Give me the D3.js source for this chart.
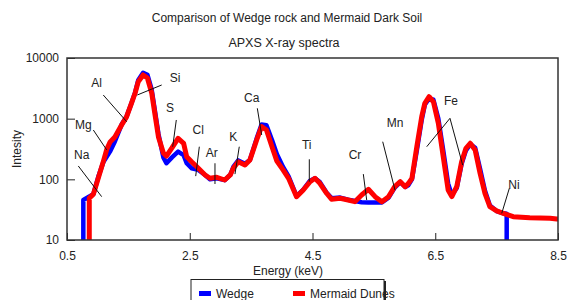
<!DOCTYPE html>
<html>
<head>
<meta charset="utf-8">
<script src="https://cdn.jsdelivr.net/npm/d3@7/dist/d3.min.js"></script>
<style>
  body { margin: 0; background: #fff; }
  svg text { font-family: "Liberation Sans", Arial, sans-serif; fill: #222; }
</style>
</head>
<body>
<svg id="chart"></svg>
<script>
// ── Data (energy keV, counts) ────────────────────────────────────────────────
const wedgeE = [0.766, 0.766, 0.85, 0.93, 1.01, 1.09, 1.20, 1.28, 1.39, 1.47, 1.55, 1.61, 1.66, 1.74, 1.81, 1.88, 1.93, 1.99, 2.07, 2.12,
  2.21, 2.31, 2.40, 2.45, 2.53, 2.64, 2.75, 2.83, 2.94, 3.07, 3.16, 3.21, 3.29, 3.40, 3.48, 3.59, 3.67, 3.75, 3.84, 3.92,
  4.02, 4.11, 4.24, 4.35, 4.46, 4.54, 4.62, 4.73, 4.81, 4.95, 5.08, 5.19, 5.30, 5.41, 5.52, 5.63, 5.74, 5.84, 5.93, 6.01,
  6.06, 6.12, 6.20, 6.28, 6.33, 6.40, 6.47, 6.55, 6.63, 6.71, 6.77, 6.85, 6.93, 7.00, 7.07, 7.15, 7.23, 7.31, 7.39, 7.50,
  7.61, 7.664, 7.664];
const wedgeC = [4, 45.6, 51, 57, 110, 190, 286, 420, 800, 1080, 1800, 2700, 4300, 5720, 5300, 3000, 1400, 560, 230, 184,
  230, 286, 250, 184, 152, 143, 118, 100, 104, 97, 118, 160, 205, 180, 208, 470, 800, 780, 445, 260,
  160, 112, 53, 68, 95, 104, 90, 60, 49, 50, 46, 44, 42, 41.5, 41.5, 41.5, 50, 73, 90, 75,
  80, 100, 300, 960, 1700, 2150, 2050, 1000, 300, 85, 55, 72, 180, 300, 380, 330, 150, 65, 37, 30,
  27.5, 27, 4];

const mermaidE = [0.863, 0.863, 0.93, 1.01, 1.09, 1.15, 1.20, 1.28, 1.39, 1.47, 1.55, 1.61, 1.66, 1.74, 1.81, 1.88, 1.93, 1.99, 2.07, 2.12,
  2.21, 2.31, 2.40, 2.45, 2.53, 2.64, 2.75, 2.83, 2.94, 3.07, 3.16, 3.21, 3.29, 3.40, 3.48, 3.59, 3.67, 3.75, 3.84, 3.92,
  4.02, 4.11, 4.24, 4.35, 4.46, 4.54, 4.62, 4.73, 4.81, 4.95, 5.08, 5.19, 5.30, 5.41, 5.52, 5.63, 5.74, 5.84, 5.93, 6.01,
  6.06, 6.12, 6.20, 6.28, 6.33, 6.40, 6.47, 6.55, 6.63, 6.71, 6.77, 6.85, 6.93, 7.00, 7.07, 7.15, 7.23, 7.31, 7.39, 7.50,
  7.61, 7.77, 8.04, 8.37, 8.48, 8.6];
const mermaidC = [4, 49, 57, 105, 194, 317, 410, 500, 787, 1070, 1790, 2650, 4040, 5250, 4680, 2650, 1240, 500, 272, 242,
  330, 475, 393, 236, 195, 152, 118, 104, 108, 97.5, 118, 152, 195, 172, 208, 445, 738, 650, 345, 200,
  143, 104, 51.8, 66.7, 91.4, 104, 86, 58.9, 46.9, 48.7, 45.6, 42.8, 55.2, 68.5, 51.8, 42.8, 51.8, 75.7, 91.4, 75.7,
  85, 104, 345, 1080, 1790, 2300, 1900, 840, 236, 66.7, 51.8, 75.7, 195, 325, 393, 305, 126, 58.9, 35.4, 30.1,
  27.5, 24.2, 23.3, 22.8, 22.2, 22.2];

const xTicks = [0.5, 2.5, 4.5, 6.5, 8.5];
const yTicks = [10, 100, 1000, 10000];

// element labels: text anchor, leader line start/end (energy, counts)
const elements = ['Na', 'Mg', 'Al', 'Si', 'S', 'Cl', 'Ar', 'K', 'Ca', 'Ti', 'Cr', 'Mn', 'Fe', 'Ni'];
const labelAt  = [[0.74, 252], [0.766, 787], [0.984, 3830], [2.26, 4630], [2.178, 1483], [2.639, 650], [2.858, 275],
  [3.21, 505], [3.509, 2217], [4.406, 368], [5.192, 252], [5.844, 840], [6.757, 1977], [7.783, 82.8]];
const leaders = [
  [[0.684, 166], [1.065, 51.8]],
  [[0.929, 650], [1.147, 305]],
  [[1.091, 2455], [1.473, 891]],
  [[2.043, 3590], [1.645, 2455]],
  [[2.281, 951], [2.222, 345]],
  [[2.656, 345], [2.597, 113]],
  [[2.911, 184], [2.911, 83.8]],
  [[3.307, 345], [3.237, 122]],
  [[3.601, 1483], [3.672, 538]],
  [[4.448, 214], [4.448, 91.4]],
  [[5.328, 122], [5.383, 45.6]],
  [[5.644, 417], [5.844, 66.7]],
  [[6.74, 1014], [6.361, 345], [6.74, 1014], [6.947, 172]],
  [[7.707, 71.2], [7.583, 27.5]]
];

const seriesNames  = ['Wedge', 'Mermaid Dunes'];
const seriesColors = ['#0000ff', '#ff0000'];

// ── Layout ───────────────────────────────────────────────────────────────────
const W = 568, H = 300;
const m = { left: 67, right: 10, top: 58, bottom: 60 };
const pw = W - m.left - m.right, ph = H - m.top - m.bottom;

const svg = d3.select('#chart').attr('width', W).attr('height', H);

const x = d3.scaleLinear().domain([0.5, 8.5]).range([m.left, m.left + pw]);
const y = d3.scaleLog().domain([10, 10000]).range([m.top + ph, m.top]);

svg.append('defs').append('clipPath').attr('id', 'plot-clip')
  .append('rect').attr('x', m.left).attr('y', m.top).attr('width', pw).attr('height', ph);

// titles
svg.append('text').attr('x', 287).attr('y', 22).attr('text-anchor', 'middle')
  .style('font-size', '12px').text('Comparison of Wedge rock and Mermaid Dark Soil');
svg.append('text').attr('x', 284).attr('y', 47).attr('text-anchor', 'middle')
  .style('font-size', '12.5px').text('APXS X-ray spectra');

// ── Series ───────────────────────────────────────────────────────────────────
const line = d3.line()
  .x(d => x(d[0]))
  .y(d => y(Math.max(d[1], 1)));

const gSeries = svg.append('g').attr('clip-path', 'url(#plot-clip)');
const wedge   = d3.zip(wedgeE, wedgeC);
const mermaid = d3.zip(mermaidE, mermaidC);

gSeries.append('path').datum(wedge)
  .attr('d', line).attr('fill', 'none')
  .attr('stroke', seriesColors[0]).attr('stroke-width', 4.5).attr('stroke-linejoin', 'round');
gSeries.append('path').datum(mermaid)
  .attr('d', line).attr('fill', 'none')
  .attr('stroke', seriesColors[1]).attr('stroke-width', 5).attr('stroke-linejoin', 'round');

// ── Axes ─────────────────────────────────────────────────────────────────────
const xAxis = svg.append('g').attr('transform', `translate(0,${m.top + ph})`)
  .call(d3.axisBottom(x).tickValues(xTicks).tickFormat(d3.format('.1f'))
    .tickSizeInner(-7).tickSizeOuter(0).tickPadding(11));
const yAxis = svg.append('g').attr('transform', `translate(${m.left},0)`)
  .call(d3.axisLeft(y).tickValues(yTicks).tickFormat(d3.format('d'))
    .tickSizeInner(-8).tickSizeOuter(0).tickPadding(8));

[xAxis, yAxis].forEach(a => {
  a.select('.domain').remove();
  a.selectAll('line').attr('stroke', '#222');
  a.selectAll('text').style('font-size', '12px').attr('fill', '#222')
    .style('font-family', '"Liberation Sans", Arial, sans-serif');
});

svg.append('rect').attr('x', m.left).attr('y', m.top).attr('width', pw).attr('height', ph)
  .attr('fill', 'none').attr('stroke', '#333').attr('stroke-width', 1.5);

svg.append('text').attr('x', 288).attr('y', 275).attr('text-anchor', 'middle')
  .style('font-size', '12px').text('Energy (keV)');
svg.append('text').attr('transform', `translate(21,${m.top + ph / 2}) rotate(-90)`)
  .attr('text-anchor', 'middle').style('font-size', '12px').text('Intesity');

// ── Element annotations ──────────────────────────────────────────────────────
const gAnn = svg.append('g');
leaders.forEach(seg => {
  for (let i = 0; i < seg.length; i += 2) {
    gAnn.append('line')
      .attr('x1', x(seg[i][0])).attr('y1', y(seg[i][1]))
      .attr('x2', x(seg[i + 1][0])).attr('y2', y(seg[i + 1][1]))
      .attr('stroke', '#111').attr('stroke-width', 1);
  }
});
gAnn.selectAll('text.el').data(elements).join('text').attr('class', 'el')
  .attr('x', (d, i) => x(labelAt[i][0]))
  .attr('y', (d, i) => y(labelAt[i][1]))
  .attr('dy', '0.35em').attr('text-anchor', 'middle')
  .style('font-size', '12px').text(d => d);

// ── Legend ───────────────────────────────────────────────────────────────────
const lg = svg.append('g');
lg.append('rect').attr('x', 193).attr('y', 281).attr('width', 193).attr('height', 30)
  .attr('fill', '#222');
lg.append('rect').attr('x', 191).attr('y', 279.5).attr('width', 193).attr('height', 30)
  .attr('fill', '#fff').attr('stroke', '#222').attr('stroke-width', 1);
const legendX = [199, 293];
seriesNames.forEach((name, i) => {
  lg.append('rect').attr('x', legendX[i]).attr('y', 291).attr('width', 12).attr('height', 5)
    .attr('fill', seriesColors[i]);
  lg.append('text').attr('x', legendX[i] + 17).attr('y', 297.5)
    .style('font-size', '12px').text(name);
});
</script>
</body>
</html>
